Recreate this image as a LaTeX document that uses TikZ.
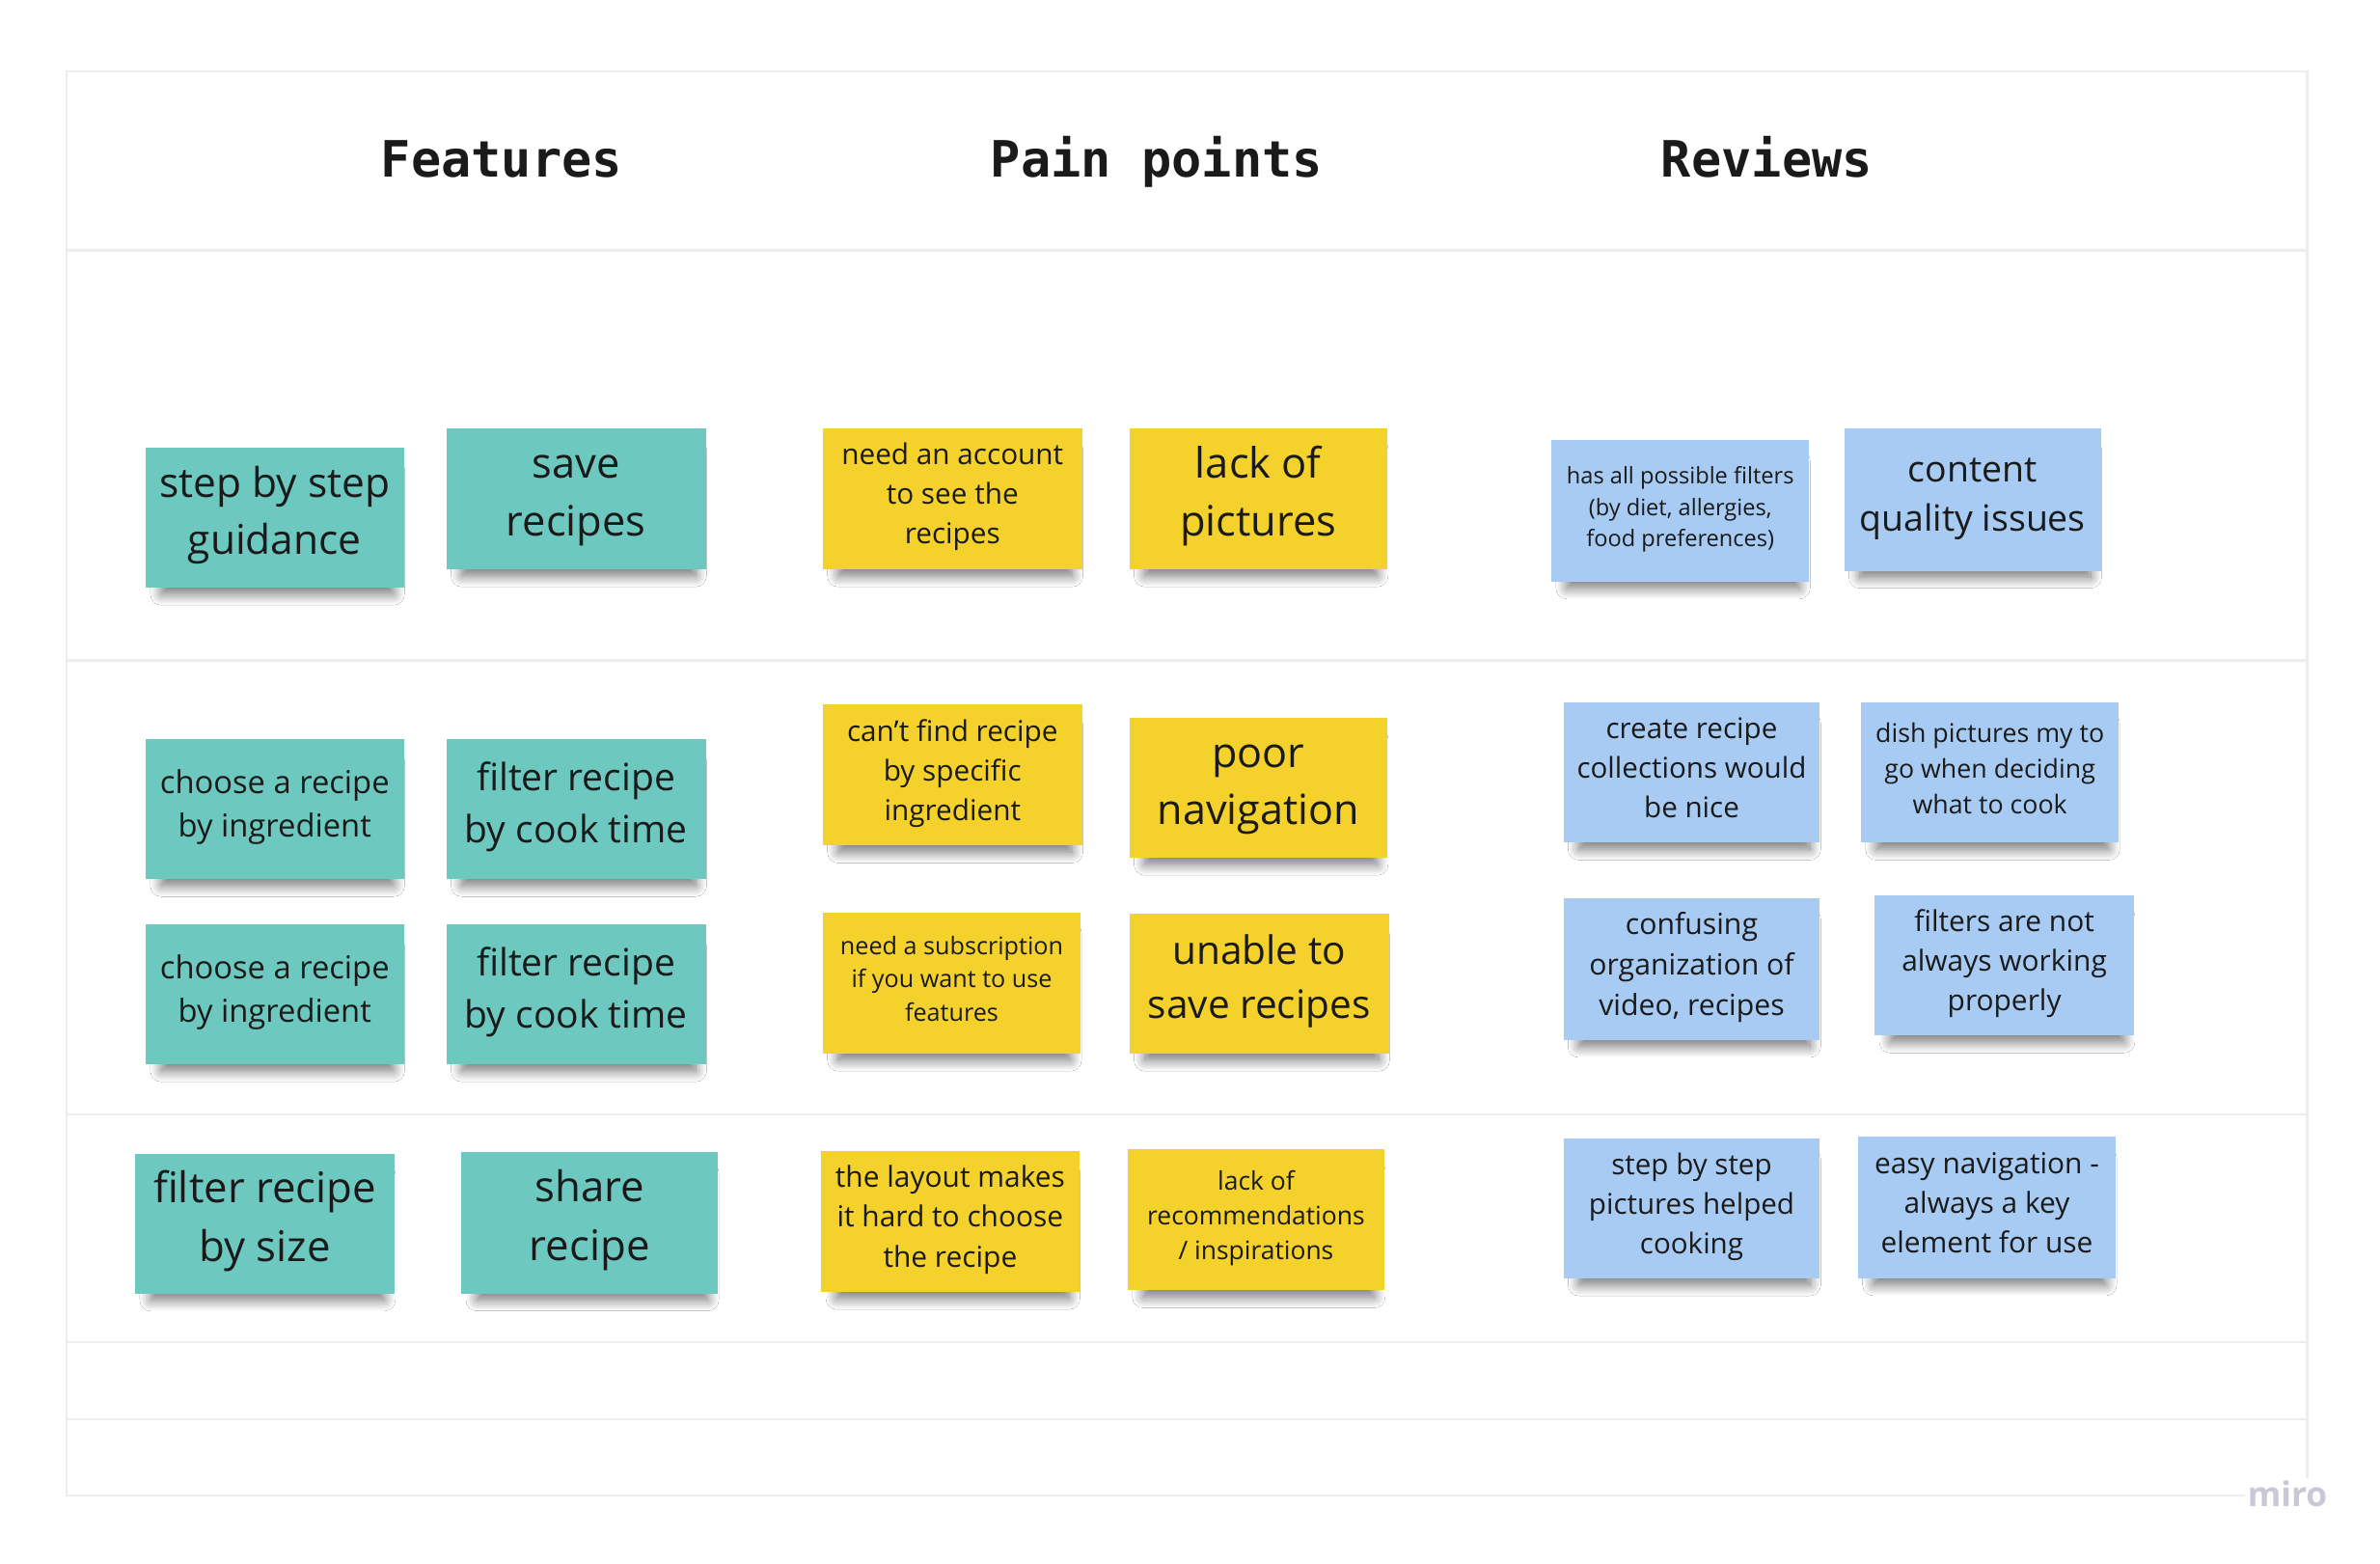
\documentclass[tikz,border=0pt]{standalone}
\usepackage{fontspec}
\setmainfont{Open Sans}
\newfontfamily\titlefont{DejaVu Sans Mono}
\usetikzlibrary{shadows.blur}
\definecolor{noteteal}{HTML}{6DC9C0}
\definecolor{noteyellow}{HTML}{F5D12C}
\definecolor{noteblue}{HTML}{A7CBF3}
\definecolor{inkcol}{HTML}{1A1A1A}
\definecolor{framecol}{HTML}{EDEDED}
\definecolor{mirocol}{HTML}{C8C8D6}
\newcommand\fs[1]{\fontsize{#1pt}{\fpeval{#1*1.38}pt}\selectfont}
\tikzset{
  notebase/.style={draw=none, inner sep=0pt,
    blur shadow={shadow xshift=1pt, shadow yshift=-5pt, shadow scale=0.9,
      shadow blur radius=4pt, shadow blur steps=16, shadow opacity=55}},
  tealnote/.style={notebase, fill=noteteal},
  yellownote/.style={notebase, fill=noteyellow},
  bluenote/.style={notebase, fill=noteblue},
  notetext/.style={anchor=base, text=inkcol, inner sep=0pt},
  coltitle/.style={anchor=base, text=inkcol, font=\titlefont\bfseries\fontsize{16.5pt}{20pt}\selectfont},
  frameline/.style={draw=framecol, line width=0.8pt},
}
% #1 name, #2 style, #3-#6 box (x1,y1,x2,y2), #7 font size, #8 number of lines, #9 text
\newcommand\sticky[9]{%
  \node[#2, minimum width={(#5-#3)*0.5pt}, minimum height={(#6-#4)*0.5pt}] (#1) at ({(#3+#5)/2},{(#4+#6)/2}) {};
  \node[notetext, font=\fs{#7}] (#1t) at ([yshift={(-0.2*#7+(#8-1)*0.69*#7)*1pt}]#1.center)
    {\begin{tabular}[t]{@{}c@{}}#9\end{tabular}};
}
\begin{document}
\begin{tikzpicture}[x=0.5pt, y=-0.5pt]
\fill[white] (0,0) rectangle (1568,1029.7);
\useasboundingbox (0,0) rectangle (1568,1029.7);
% frame
\draw[frameline] (44,47) rectangle (1520,985);
\foreach \yy in {165,435,734,884,935} \draw[frameline] (44,\yy) -- (1520,\yy);
% titles
\node[coltitle] (hfeat) at (330.5,116.5) {Features};
\node[coltitle] (hpain) at (762,116.5) {Pain points};
\node[coltitle] (hrev) at (1164,116.5) {Reviews};
% features
\sticky{f1}{tealnote}{96}{295}{266}{387}{13.5}{2}{step by step\\guidance}
\sticky{f2}{tealnote}{294}{282}{465}{375}{13.8}{2}{save\\recipes}
\sticky{f3}{tealnote}{96}{487}{266}{579}{10.4}{2}{choose a recipe\\by ingredient}
\sticky{f4}{tealnote}{294}{487}{465}{579}{12.4}{2}{filter recipe\\by cook time}
\sticky{f5}{tealnote}{96}{609}{266}{701}{10.4}{2}{choose a recipe\\by ingredient}
\sticky{f6}{tealnote}{294}{609}{465}{701}{12.4}{2}{filter recipe\\by cook time}
\sticky{f7}{tealnote}{89}{760}{260}{852}{13.9}{2}{filter recipe\\by size}
\sticky{f8}{tealnote}{304}{759}{473}{852}{13.9}{2}{share\\recipe}
% pain points
\sticky{p1}{yellownote}{542}{282}{713}{375}{9.45}{3}{need an account\\to see the\\recipes}
\sticky{p2}{yellownote}{744}{282}{914}{375}{13.8}{2}{lack of\\pictures}
\sticky{p3}{yellownote}{542}{464}{713}{557}{9.45}{3}{can't find recipe\\by specific\\ingredient}
\sticky{p4}{yellownote}{744}{473}{914}{565}{13.7}{2}{poor\\navigation}
\sticky{p5}{yellownote}{542}{601}{712}{694}{8.0}{3}{need a subscription\\if you want to use\\features}
\sticky{p6}{yellownote}{744}{602}{915}{694}{12.9}{2}{unable to\\save recipes}
\sticky{p7}{yellownote}{541}{758}{711}{851}{9.5}{3}{the layout makes\\it hard to choose\\the recipe}
\sticky{p8}{yellownote}{743}{757}{912}{850}{8.4}{3}{lack of\\recommendations\\/ inspirations}
% reviews
\sticky{r1}{bluenote}{1022}{290}{1192}{383}{7.5}{3}{has all possible filters\\(by diet, allergies,\\food preferences)}
\sticky{r2}{bluenote}{1215}{282}{1384}{376}{11.9}{2}{content\\quality issues}
\sticky{r3}{bluenote}{1030}{463}{1199}{555}{9.4}{3}{create recipe\\collections would\\be nice}
\sticky{r4}{bluenote}{1226}{463}{1396}{555}{8.5}{3}{dish pictures my to\\go when deciding\\what to cook}
\sticky{r5}{bluenote}{1030}{592}{1199}{685}{9.6}{3}{confusing\\organization of\\video, recipes}
\sticky{r6}{bluenote}{1235}{590}{1406}{682}{9.5}{3}{filters are not\\always working\\properly}
\sticky{r7}{bluenote}{1030}{750}{1199}{842}{9.4}{3}{step by step\\pictures helped\\cooking}
\sticky{r8}{bluenote}{1224}{749}{1394}{842}{9.5}{3}{easy navigation -\\always a key\\element for use}
% watermark
\node[anchor=base, fill=white, inner sep=1pt, text=mirocol, font=\bfseries\fontsize{11.2pt}{13pt}\selectfont] (miro) at (1507,992.6) {miro};
\end{tikzpicture}
\end{document}
